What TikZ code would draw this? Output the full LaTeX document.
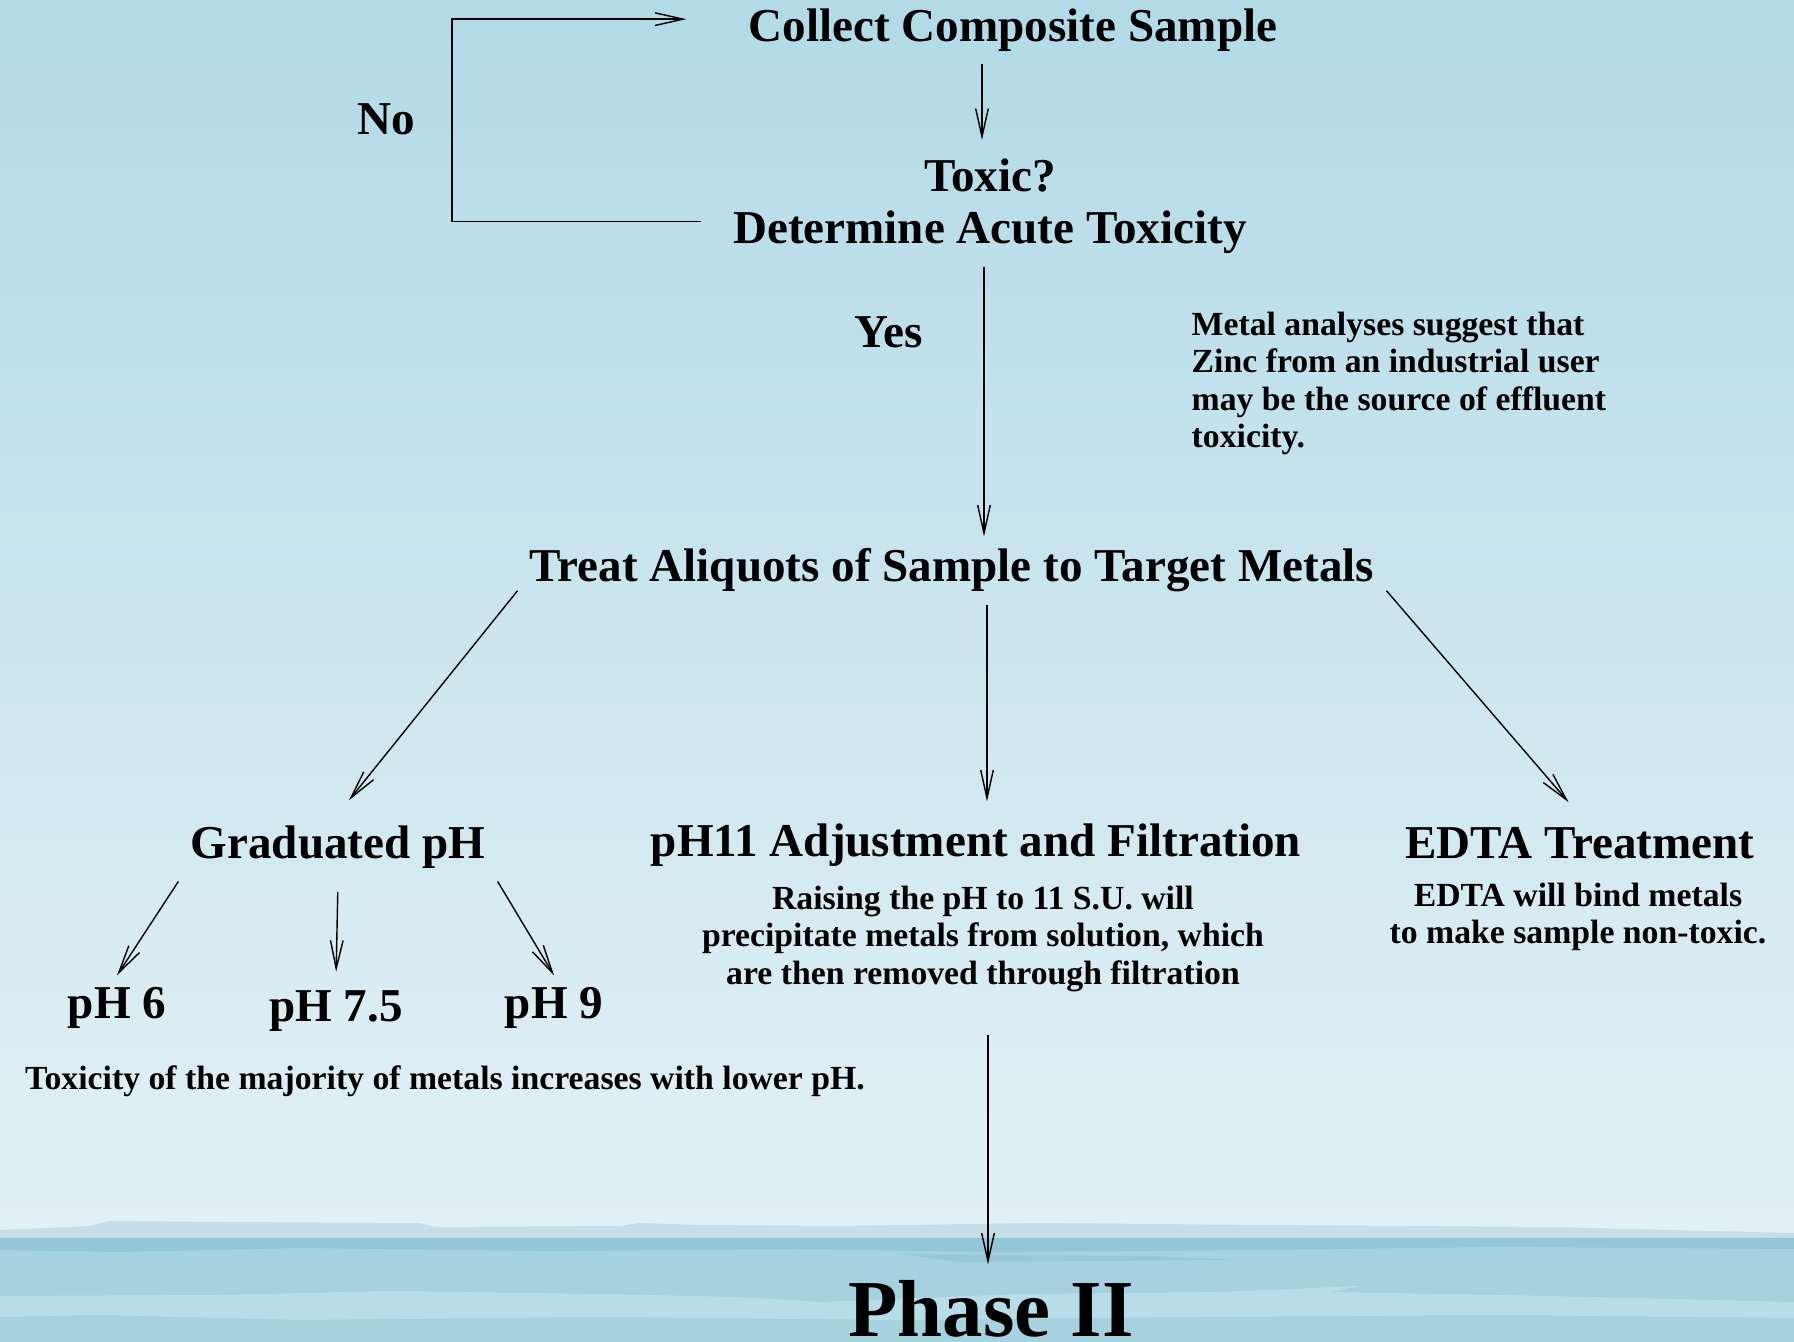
\documentclass[tikz,border=0pt]{standalone}
\usepackage{fontspec}
\setmainfont{Liberation Serif}
\usetikzlibrary{arrows.meta, positioning, calc}

\definecolor{skytop}{RGB}{178,218,231}
\definecolor{skylow}{RGB}{227,241,246}
\definecolor{haze}{RGB}{198,222,229}
\definecolor{sea}{RGB}{166,210,224}
\definecolor{seadark}{RGB}{147,198,215}
\definecolor{sealight}{RGB}{184,221,232}

\begin{document}
\begin{tikzpicture}[
            head/.style={font=\fontsize{13.4}{14.8}\selectfont\bfseries, align=center},
            note/.style={font=\fontsize{9.6}{10.7}\selectfont\bfseries, align=center, inner sep=0pt},
            arr/.style={-{Straight Barb[length=8pt,width=3.6pt]}, line width=0.4pt}
        ]
            \useasboundingbox (0,0) rectangle (17.94,13.42);

            % sky and sea
            \shade[top color=skytop, bottom color=skylow] (0,1.04) rectangle (17.94,13.42);
            \fill[haze] (0,1.04) -- (0,1.12) -- (0.9,1.16) -- (1.1,1.21) -- (2.2,1.20) -- (4.2,1.19)
                -- (4.35,1.15) -- (6.2,1.16) -- (6.4,1.19) -- (7.0,1.17) -- (8.4,1.16) -- (10.4,1.19)
                -- (12.6,1.17) -- (15.5,1.15) -- (17.94,1.09) -- (17.94,1.04) -- cycle;
            \fill[sea] (0,0) rectangle (17.94,1.04);
            \fill[seadark] (0,1.04) -- (17.94,1.04) -- (17.94,0.93) -- (15.0,0.95) -- (12.5,0.92)
                -- (9.9,0.90) -- (8.0,0.93) -- (5.5,0.91) -- (3.0,0.94) -- (1.2,0.90) -- (0,0.92) -- cycle;
            \fill[seadark!80!sea] (9.0,0.88) -- (11.5,0.86) -- (12.4,0.82) -- (9.6,0.80) -- cycle;
            \fill[sealight] (0,0.46) -- (2.2,0.47) -- (3.9,0.51) -- (6.0,0.48) -- (7.4,0.45) -- (8.2,0.40)
                -- (10.2,0.48) -- (12.2,0.50) -- (13.6,0.56) -- (13.3,0.50) -- (15.5,0.46) -- (17.94,0.40)
                -- (17.94,0.24) -- (15.0,0.27) -- (12.0,0.25) -- (9.0,0.22) -- (6.0,0.25)
                -- (3.0,0.22) -- (1.0,0.27) -- (0,0.25) -- cycle;

            % first test
            \node[head, anchor=base] (collect) at (10.13,13.00) {Collect Composite Sample};
            \node[head, anchor=base] (toxic) at (9.90,11.50) {Toxic?};
            \node[head, anchor=base] (determine) at (9.90,10.98) {Determine Acute Toxicity};
            \node[head, anchor=base] (no) at (3.86,12.07) {No};
            \node[head, anchor=base] (yes) at (8.89,9.94) {Yes};
            \node[note, align=left, anchor=north west] (zinc) at (11.91,10.31)
                {Metal analyses suggest that\\Zinc from an industrial user\\may be the source of effluent\\toxicity.};

            % treatments
            \node[head, anchor=base] (treat) at (9.52,7.60) {Treat Aliquots of Sample to Target Metals};
            \node[head, anchor=base] (grad) at (3.38,4.83) {Graduated pH};
            \node[head, anchor=base] (ph11) at (9.76,4.85) {pH11 Adjustment and Filtration};
            \node[head, anchor=base] (edta) at (15.80,4.83) {EDTA Treatment};
            \node[note, anchor=north] (raise) at (9.83,4.57)
                {Raising the pH to 11 S.U. will\\precipitate metals from solution, which\\are then removed through filtration};
            \node[note, anchor=north] (bind) at (15.78,4.60)
                {EDTA will bind metals\\to make sample non-toxic.};

            % graduated pH
            \node[head, anchor=base] (ph6) at (1.17,3.23) {pH 6};
            \node[head, anchor=base] (ph75) at (3.36,3.20) {pH 7.5};
            \node[head, anchor=base] (ph9) at (5.54,3.23) {pH 9};
            \node[note, anchor=base] (lowph) at (4.45,2.52) {Toxicity of the majority of metals increases with lower pH.};

            \node[font=\fontsize{23}{25}\selectfont\bfseries, anchor=base] (phase) at (9.91,0.055) {Phase II};

            \draw[arr, shorten >=2pt] ([xshift=-0.08cm]collect.south -| toxic.north) -- ([xshift=-0.08cm]toxic.north);
            \draw[arr] ([shift={(-0.2,0.11)}]determine.west) -- ++(-2.49,0) |- ([shift={(-0.5,0.115)}]collect.west);
            \draw[arr] ([xshift=-0.06cm]determine.south) -- ([xshift=-0.06cm]determine.south |- treat.north);
            \draw[arr, shorten >=5pt] ([yshift=4pt]treat.south west) -- (grad.north);
            \draw[arr, shorten >=3pt] ([xshift=0.04cm]treat.south -| raise.north) -- ([xshift=0.04cm]raise.north |- ph11.north);
            \draw[arr, shorten >=5pt] ([yshift=4pt]treat.south east) -- (edta.north);
            \draw[arr] (grad.south west) -- (ph6.north);
            \draw[arr, shorten <=3pt, shorten >=2pt] (grad.south) -- (ph75.north);
            \draw[arr] (grad.south east) -- (ph9.north);
            \draw[arr, shorten <=12pt, shorten >=1pt] ([xshift=-0.03cm]raise.south -| phase.north) -- ([xshift=-0.03cm]phase.north);
        \end{tikzpicture}
\end{document}
